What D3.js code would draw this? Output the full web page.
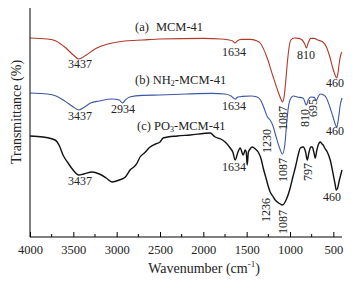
<!DOCTYPE html>
<html><head><meta charset="utf-8">
<script src="https://cdn.jsdelivr.net/npm/d3@7"></script>
<style>body{margin:0;background:#fff}svg{display:block}svg text{font-family:"Liberation Serif","DejaVu Serif",serif !important;fill:#222}</style>
</head><body><svg id="c" width="358" height="282"></svg>
<script>
// wavenumber (cm-1)
const wnA = [4000,3800,3700,3600,3500,3437,3350,3250,3100,2900,2700,2500,2000,1800,1700,1660,1634,1610,1560,1450,1380,1344,1263,1194,1136,1100,1087,1070,1050,1030,1010,990,950,900,860,830,810,790,760,720,680,620,580,540,510,480,460,445,430,415,400];
const tA  = [99.5,99,98,95,91,89,91,94,96.5,98,98.5,99,99.3,99,98.5,98,97,98,98.8,98.8,98,97,89.5,80,72.5,68.5,67.5,69.5,77.5,87.5,95,98.5,99.5,99.3,98.5,96.5,94.5,97,99.3,99.3,98.5,97.5,95,90,85,81,79.5,82.5,87.5,91,92.5];
const wnB = [4000,3800,3700,3600,3500,3437,3370,3300,3200,3050,2970,2934,2900,2850,2700,2500,2200,1900,1750,1680,1634,1600,1550,1450,1380,1340,1300,1260,1230,1200,1160,1120,1087,1060,1040,1020,1000,960,917,850,810,790,760,720,695,670,650,610,580,540,500,470,460,440,420,400];
const tB  = [72,71.5,70.5,68,65,63.5,65,67,68,69,68.5,67,68.5,70,70.8,71,71.5,71.8,71.5,70.5,69,70,70.3,70.5,70,68.5,64.5,60,58.5,56,50,44.5,41.5,46,56,64.5,68.5,70.5,70,69.5,66,68.5,70,69.8,68.5,70.5,71.5,71,69.5,65,59.5,55.5,55,59.5,66,69.5];
const wnC = [4000,3850,3711,3660,3619,3561,3503,3437,3380,3284,3200,3120,3053,2970,2900,2845,2790,2764,2730,2680,2614,2550,2499,2464,2300,2152,1921,1864,1800,1748,1690,1660,1633,1600,1575,1540,1517,1505,1494,1480,1460,1436,1400,1367,1330,1309,1280,1252,1229,1200,1171,1130,1087,1040,998,970,940,900,882,847,820,801,780,760,744,725,709,690,670,651,630,617,600,570,536,500,478,467,455,430,400];
const tC  = [50.5,50,48.5,45.5,41,37,33.5,31,31.5,32.5,31.5,29.5,27.5,28.5,30,33.5,35.5,37,40,42,45,46.5,47.5,49.5,50.5,51,52,50,49,47.5,44.5,42.5,38.5,42.5,44.5,41,43.5,42.5,36,42.5,44,45,44,42.5,38.5,34.5,30,25.5,22.5,20.5,18.5,17,16,19,24.5,29.5,34.5,42,44.5,45,42.5,38.5,42.5,45,45,42.5,39.5,43.5,46.5,47.5,46.5,46,44.5,42.5,38.5,31,26,23.5,24,28.5,33.5];
const seriesNames = ["a","b","c"];
const seriesColors = ["#b03a28","#3c56a6","#111111"];
const xTicks = [4000,3500,3000,2500,2000,1500,1000,500];
const xMinor = [3750,3250,2750,2250,1750,1250,750];

const FONT = '"Liberation Serif","DejaVu Serif",serif';
const svg = d3.select("#c");
const x = d3.scaleLinear().domain([4000,400]).range([30,342]);
const y = d3.scaleLinear().domain([0,114.5]).range([237,8]);

const series = [
  {wn:wnA, t:tA, c:seriesColors[0], w:1.1},
  {wn:wnB, t:tB, c:seriesColors[1], w:1.1},
  {wn:wnC, t:tC, c:seriesColors[2], w:1.4}
];
const line = d3.line().x(d=>x(d[0])).y(d=>y(d[1])).curve(d3.curveMonotoneX);
series.forEach(s=>{
  svg.append("path").datum(s.wn.map((w,i)=>[w,s.t[i]]))
    .attr("d",line).attr("fill","none").attr("stroke",s.c).attr("stroke-width",s.w).attr("stroke-linejoin","round");
});

// axes
const gx = svg.append("g").attr("transform","translate(0,237)");
gx.call(d3.axisBottom(x).tickValues(xTicks).tickSize(-5).tickPadding(8).tickFormat(d3.format("d")));
gx.attr("font-family",FONT);
gx.select(".domain").attr("d","M30,0H342").attr("stroke","#000");
gx.selectAll(".tick line").attr("stroke","#000");
gx.selectAll(".tick text").attr("font-size",12.5).style("font-family",FONT).attr("fill","#222");
gx.selectAll(".minor").data(xMinor).enter().append("line").attr("class","minor")
  .attr("x1",d=>x(d)).attr("x2",d=>x(d)).attr("y1",0).attr("y2",-3).attr("stroke","#000");
svg.append("line").attr("x1",30).attr("x2",30).attr("y1",8).attr("y2",237).attr("stroke","#000");

// axis titles
const xt = svg.append("text").attr("x",204).attr("y",267.5).attr("text-anchor","middle").attr("dominant-baseline","central").attr("font-size",14).style("font-family",FONT);
xt.append("tspan").text("Wavenumber (cm");
xt.append("tspan").text("-1").attr("font-size",9).attr("dy",-4);
xt.append("tspan").text(")").attr("dy",4);
svg.append("text").attr("transform","translate(16,112) rotate(-90)").attr("text-anchor","middle").attr("dominant-baseline","central").attr("font-size",14).style("font-family",FONT).text("Transmittance (%)");

// series labels
function lab(xp,yp,parts){
  const t = svg.append("text").attr("x",xp).attr("y",yp).attr("dominant-baseline","central").attr("font-size",12.5).style("font-family",FONT);
  parts.forEach(p=>{
    const s = t.append("tspan").text(p[0]);
    if(p[1]==="sub"){ s.attr("font-size",8).attr("dy",3); }
    else if(p[1]==="after"){ s.attr("dy",-3); }
    if(p[2]) s.attr("dx",p[2]);
  });
}
lab(135,27,[["(a)"],["MCM-41",null,7]]);
lab(135,80,[["(b) NH"],["2","sub"],["-MCM-41","after"]]);
lab(137,126,[["(c) PO"],["3","sub"],["-MCM-41","after"]]);

// peak annotations
const ann = [
  [80,64,"3437",0],[234,52,"1634",0],[306,55,"810",0],[335,83,"460",0],[283,118,"1087",1],
  [80,116,"3437",0],[123,109,"2934",0],[234,106,"1634",0],[267,141,"1230",1],[283,170,"1087",1],[305,118,"810",1],[313,108,"695",1],[335,131,"460",0],
  [80,181,"3437",0],[234,167,"1634",0],[266,210,"1236",1],[283,222,"1087",1],[308,172,"797",1],[332,197,"460",0]
];
ann.forEach(a=>{
  svg.append("text").attr("transform",`translate(${a[0]},${a[1]})`+(a[3]?" rotate(-90)":""))
    .attr("text-anchor","middle").attr("dominant-baseline","central").attr("font-size",12).style("font-family",FONT).text(a[2]);
});
</script></body></html>
